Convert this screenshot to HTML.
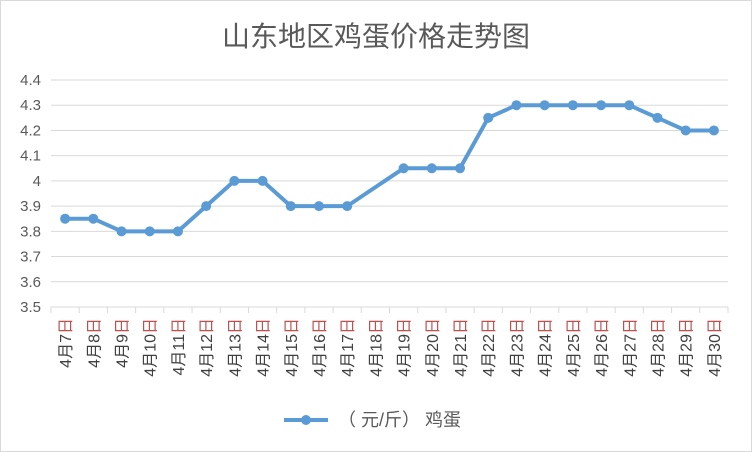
<!DOCTYPE html>
<html><head><meta charset="utf-8"><style>
body{margin:0;background:#fff;}
svg{display:block;font-family:"Liberation Sans","Noto Sans CJK SC",sans-serif;}
</style></head><body>
<svg id="c" width="752" height="452" viewBox="0 0 752 452">
<rect x="0.5" y="0.5" width="751" height="451" fill="#fff" stroke="#d9d9d9"/>
<text x="376" y="46" text-anchor="middle" font-size="28" fill="#595959">山东地区鸡蛋价格走势图</text>
<g id="grid"></g>
<g id="yt"></g>
<g id="xt"></g>
<g id="series"></g>
<g>
<line x1="284" y1="420" x2="328" y2="420" stroke="#5b9bd5" stroke-width="4"/>
<circle cx="306" cy="420" r="5" fill="#5b9bd5"/>
<text x="338" y="426" font-size="18" fill="#595959">（ 元/斤） 鸡蛋</text>
</g>
</svg>
<script>
const categories=["7","8","9","10","11","12","13","14","15","16","17","18","19","20","21","22","23","24","25","26","27","28","29","30"];
const values=[3.85,3.85,3.8,3.8,3.8,3.9,4.0,4.0,3.9,3.9,3.9,null,4.05,4.05,4.05,4.25,4.3,4.3,4.3,4.3,4.3,4.25,4.2,4.2];
const yTicks=["3.5","3.6","3.7","3.8","3.9","4","4.1","4.2","4.3","4.4"];
const yMin=3.5,yMax=4.4;
const L=51,R=728,T=80,B=307;
const NS="http://www.w3.org/2000/svg";
const bw=(R-L)/categories.length;
const xs=i=>L+bw*(i+0.5);
const ys=v=>B-(v-yMin)/(yMax-yMin)*(B-T);
function mk(tag,attrs,parent){const e=document.createElementNS(NS,tag);for(const k in attrs)e.setAttribute(k,attrs[k]);parent.appendChild(e);return e;}
const grid=document.getElementById('grid'),yt=document.getElementById('yt'),xt=document.getElementById('xt'),ser=document.getElementById('series');
yTicks.forEach(t=>{const y=ys(parseFloat(t));
const l=mk('line',{x1:L,x2:R,y1:y,y2:y,stroke:'#d9d9d9','stroke-width':1},grid);


const tx=mk('text',{x:L-10,y:y+5,'text-anchor':'end','font-size':15,fill:'#595959'},yt);
tx.textContent=t;


});
for(let i=0;i<=categories.length;i++){const x=L+bw*i;
const tk=mk('line',{x1:x,x2:x,y1:B,y2:B+6,stroke:'#d9d9d9'},grid);

}
categories.forEach((c,i)=>{const x=xs(i)+6;
const t=mk('text',{x:0,y:0,'text-anchor':'end','font-size':16,fill:'#404040',transform:`translate(${x},318) rotate(-90)`},xt);
t.innerHTML='4月'+c+'<tspan fill="#c0504d">日</tspan>';


});
let d='',pen=false;
values.forEach((v,i)=>{if(v===null){return;}d+=(pen?'L':'M')+xs(i)+' '+ys(v)+' ';pen=true;});
const p=mk('path',{d:d,fill:'none',stroke:'#5b9bd5','stroke-width':4,'stroke-linejoin':'round'},ser);


values.forEach((v,i)=>{if(v===null)return;
const m=mk('circle',{cx:xs(i),cy:ys(v),r:5,fill:'#5b9bd5'},ser);


});
</script>
</body></html>
